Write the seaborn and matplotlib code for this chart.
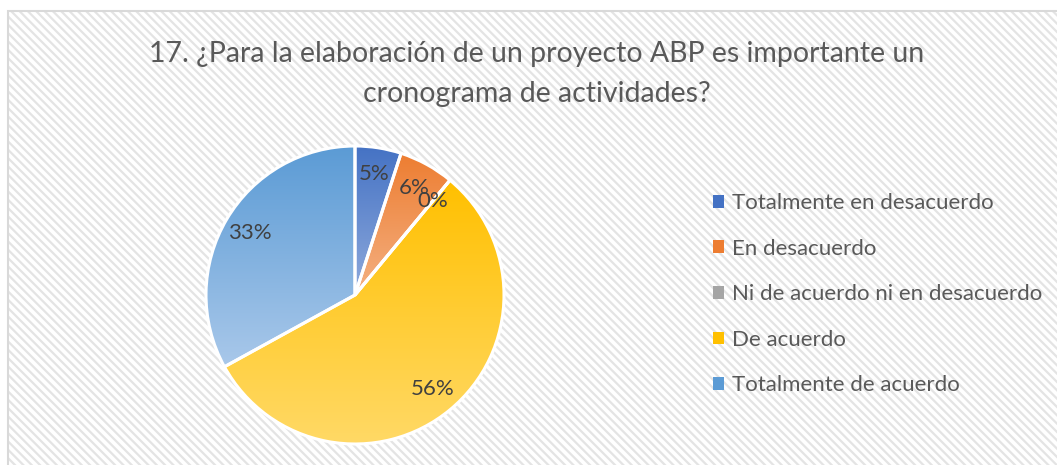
import numpy as np
import matplotlib
matplotlib.use("Agg")
import matplotlib.pyplot as plt
import seaborn as sns
from matplotlib.patches import Rectangle, Patch
from matplotlib.colors import LinearSegmentedColormap

sns.set_theme(style="white")
plt.rcParams['font.family'] = ['Lato', 'DejaVu Sans']
plt.rcParams['hatch.linewidth'] = 1.6

# ---- data ----
title = "17. ¿Para la elaboración de un proyecto ABP es importante un\ncronograma de actividades?"
categories = ["Totalmente en desacuerdo", "En desacuerdo", "Ni de acuerdo ni en desacuerdo",
              "De acuerdo", "Totalmente de acuerdo"]
values = [5, 6, 0, 56, 33]
top_colors = ["#4472C4", "#ED7D31", "#A5A5A5", "#FFC000", "#5B9BD5"]
bottom_colors = ["#8FAADC", "#F4B183", "#C9C9C9", "#FFD966", "#A9C8EA"]

W, H = 1057, 465
fig = plt.figure(figsize=(W / 100, H / 100), dpi=100)
fig.patch.set_facecolor("white")

# hatched chart-area background
bg = Rectangle((8 / W, -0.01), 1.0, 1 - 11 / H + 0.01, transform=fig.transFigure,
               facecolor="white", edgecolor="#e4e4e4", hatch="\\\\\\\\", linewidth=0, zorder=-2)
fig.patches.append(bg)
border = Rectangle((8 / W, -0.01), 1.0, 1 - 11 / H + 0.01, transform=fig.transFigure,
                   facecolor="none", edgecolor="#d9d9d9", linewidth=1.5, zorder=-1)
fig.patches.append(border)

# pie axes
cx, cy, r = 355, 295, 149
ax = fig.add_axes([(cx - r) / W, (H - cy - r) / H, 2 * r / W, 2 * r / H])
ax.set_zorder(2)
ax.set_facecolor("none")
wedges, texts, autotexts = ax.pie(
    values, startangle=90, counterclock=False, radius=1,
    colors=top_colors, autopct=lambda p: f"{p:.0f}%", pctdistance=0.82,
    wedgeprops=dict(edgecolor="white", linewidth=2.2),
    textprops=dict(color="#404040", fontsize=16))
ax.axis("off")

# gradient fills clipped to wedges (darker at top, lighter at bottom)
grad = np.linspace(0, 1, 256).reshape(-1, 1)
for w, c0, c1 in zip(wedges, top_colors, bottom_colors):
    ext = w.get_path().get_extents()
    if ext.height <= 0 or ext.width <= 0:
        continue
    cmap = LinearSegmentedColormap.from_list("g", [c0, c1])
    im = ax.imshow(grad, cmap=cmap, extent=[ext.x0, ext.x1, ext.y0, ext.y1],
                   origin="upper", aspect="auto", zorder=w.get_zorder() + 0.1,
                   interpolation="bilinear")
    im.set_clip_path(w)
    w.set_facecolor("none")
    w.set_zorder(w.get_zorder() + 0.2)
for t in autotexts:
    t.set_zorder(5)
ax.set_xlim(-1.0, 1.0)
ax.set_ylim(-1.0, 1.0)
ax.set_aspect("auto")

# legend
handles = [Patch(facecolor=c, edgecolor="none") for c in top_colors]
leg = fig.legend(handles, categories, loc="upper left", bbox_to_anchor=(702 / W, 1 - 182 / H),
                 frameon=False, fontsize=16, labelcolor="#595959", handlelength=0.5,
                 handleheight=0.5, handletextpad=0.35, labelspacing=1.15, borderpad=0)
leg.set_zorder(3)

# title
fig.text(537 / W, 1 - 74 / H, title, ha="center", va="center", fontsize=20.5,
         color="#595959", linespacing=1.65, zorder=3)

fig.savefig("out.png", dpi=100)
